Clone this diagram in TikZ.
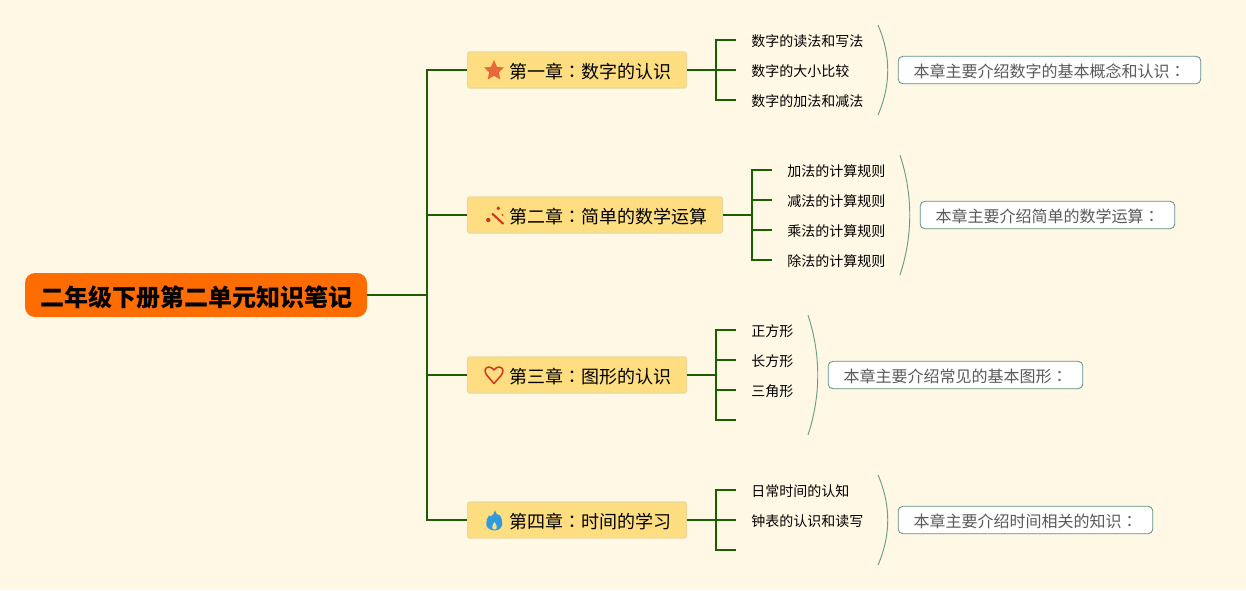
\documentclass[tikz,border=0pt]{standalone}
\usepackage{fontspec}
\usepackage{xcolor}
\usetikzlibrary{positioning}
\setmainfont{Noto Sans CJK SC}
\newfontfamily\colonfont{Noto Sans CJK TC}
\newcommand{\cnc}{{\colonfont ：}}
\definecolor{bgcol}{HTML}{FFF8E5}
\definecolor{rootcol}{HTML}{FF6D00}
\definecolor{chapcol}{HTML}{FFDE82}
\definecolor{chapline}{HTML}{E8D8A0}
\definecolor{linecol}{HTML}{1B5E00}
\definecolor{bracecol}{HTML}{6C9C84}
\definecolor{noteline}{HTML}{5F9088}
\definecolor{notetext}{HTML}{5A5A5A}
\definecolor{starcol}{HTML}{E8683A}
\definecolor{wandcol}{HTML}{D0341E}
\definecolor{flamecol}{HTML}{2E9BE0}
\tikzset{
	rootnode/.style={fill=rootcol, rounded corners=7.5pt, minimum width=256.5pt, minimum height=33pt, inner sep=0pt, text height=17pt, text depth=0pt, font=\fontsize{18pt}{18pt}\selectfont\bfseries},
	chapnode/.style={draw=chapline, line width=0.8pt, fill=chapcol, rounded corners=1.2pt, minimum height=27pt, inner sep=0pt, anchor=west, align=left, text height=12.5pt, text depth=0pt, font=\fontsize{13.5pt}{14pt}\selectfont},
	leafnode/.style={inner ysep=2pt, inner xsep=11.25pt, anchor=west, text height=10pt, text depth=0pt, font=\fontsize{10.5pt}{11pt}\selectfont},
	notenode/.style={draw=noteline, line width=0.6pt, fill=white, rounded corners=3.5pt, minimum height=20.5pt, inner sep=0pt, text height=11pt, text depth=0pt, text=notetext, font=\fontsize{12pt}{12pt}\selectfont},
	branch/.style={draw=linecol, line width=1.5pt},
	curveline/.style={draw=bracecol, line width=0.7pt}
}
\begin{document}
\begin{tikzpicture}[x=0.75pt, y=-0.75pt]
	% fondo
	\fill[bgcol] (0,0) rectangle (1246,590);

	% blocchi
	\node[rootnode] (root) at (196,295) {二年级下册第二单元知识笔记};
	\node[chapnode, text width=164.2pt] (ch1) at (467,70) {\hspace*{31.5pt}第一章\cnc 数字的认识};
	\node[chapnode, text width=191.2pt] (ch2) at (467,215) {\hspace*{31.5pt}第二章\cnc 简单的数学运算};
	\node[chapnode, text width=164.2pt] (ch3) at (467,375) {\hspace*{31.5pt}第三章\cnc 图形的认识};
	\node[chapnode, text width=164.2pt] (ch4) at (467,520) {\hspace*{31.5pt}第四章\cnc 时间的学习};

	% icone
	\fill[starcol] (494,60) -- (497,66.8) -- (504,67.5) -- (498.8,72.3) -- (500.3,79.5) -- (494,75.8) -- (487.7,79.5) -- (489.2,72.3) -- (484,67.5) -- (491,66.8) -- cycle;
	\draw[wandcol, line width=1.5pt] (492,213.5) -- (503.5,224);
	\fill[wandcol] (488.3,220) circle (2.2) (498.3,208.3) circle (1.9) (502.7,215) circle (1);
	\draw[wandcol, line width=1.1pt, line join=round] (494,383.5) -- (487,375.5) .. controls (483.5,371.5) and (485,367) .. (489,367) .. controls (491,367) and (493,368.5) .. (494,370) .. controls (495,368.5) and (497,367) .. (499,367) .. controls (503,367) and (504.5,371.5) .. (501,375.5) -- cycle;
	\fill[flamecol] (495,510) .. controls (496,514) and (498,516) .. (499.5,515) .. controls (503,519) and (505,530) .. (494.5,530.5) .. controls (484,530) and (485,520) .. (489,515.5) .. controls (490,517) and (494,516) .. (495,510) -- cycle;
	\fill[chapcol] (494.5,522) .. controls (497,525) and (498,529.5) .. (494.5,529.5) .. controls (491,529.5) and (492,525) .. (494.5,522) -- cycle;

	% note
	\node[notenode, minimum width=227pt] (note1) at (1049.5,70) {本章主要介绍数字的基本概念和认识\cnc};
	\node[notenode, minimum width=191pt] (note2) at (1047.5,215) {本章主要介绍简单的数学运算\cnc};
	\node[notenode, minimum width=191pt] (note3) at (955.5,375) {本章主要介绍常见的基本图形\cnc};
	\node[notenode, minimum width=191pt] (note4) at (1025.5,520) {本章主要介绍时间相关的知识\cnc};

	% foglie
	\node[leafnode] (a1) at (736,40) {数字的读法和写法};
	\node[leafnode] (a2) at (736,70) {数字的大小比较};
	\node[leafnode] (a3) at (736,100) {数字的加法和减法};
	\node[leafnode] (b1) at (772,170) {加法的计算规则};
	\node[leafnode] (b2) at (772,200) {减法的计算规则};
	\node[leafnode] (b3) at (772,230) {乘法的计算规则};
	\node[leafnode] (b4) at (772,260) {除法的计算规则};
	\node[leafnode] (c1) at (736,330) {正方形};
	\node[leafnode] (c2) at (736,360) {长方形};
	\node[leafnode] (c3) at (736,390) {三角形};
	\coordinate (c4) at (736,420);
	\node[leafnode] (d1) at (736,490) {日常时间的认知};
	\node[leafnode] (d2) at (736,520) {钟表的认识和读写};
	\coordinate (d3) at (736,550);

	% frecce
	\coordinate (trunk) at (427,295);
	\draw[branch] (root.east) -- (trunk);
	\draw[branch] (trunk) |- (ch1.west);
	\draw[branch] (trunk) |- (ch2.west);
	\draw[branch] (trunk) |- (ch3.west);
	\draw[branch] (trunk) |- (ch4.west);

	\coordinate (j1) at (716,70);
	\draw[branch] (ch1.east) -- (a2.west);
	\draw[branch] (j1) |- (a1.west);
	\draw[branch] (j1) |- (a3.west);

	\coordinate (j2) at (752,215);
	\draw[branch] (ch2.east) -- (j2);
	\draw[branch] (j2) |- (b1.west);
	\draw[branch] (j2) |- (b2.west);
	\draw[branch] (j2) |- (b3.west);
	\draw[branch] (j2) |- (b4.west);

	\coordinate (j3) at (716,375);
	\draw[branch] (ch3.east) -- (j3);
	\draw[branch] (j3) |- (c1.west);
	\draw[branch] (j3) |- (c2.west);
	\draw[branch] (j3) |- (c3.west);
	\draw[branch] (j3) |- (c4);

	\coordinate (j4) at (716,520);
	\draw[branch] (ch4.east) -- (d2.west);
	\draw[branch] (j4) |- (d1.west);
	\draw[branch] (j4) |- (d3);

	% curve
	\draw[curveline] (878,25) .. controls (891,55) and (891,85) .. (878,115);
	\draw[curveline] (900,155) .. controls (913,195) and (913,235) .. (900,275);
	\draw[curveline] (808,315) .. controls (821,355) and (821,395) .. (808,435);
	\draw[curveline] (878,475) .. controls (891,505) and (891,535) .. (878,565);
\end{tikzpicture}
\end{document}
